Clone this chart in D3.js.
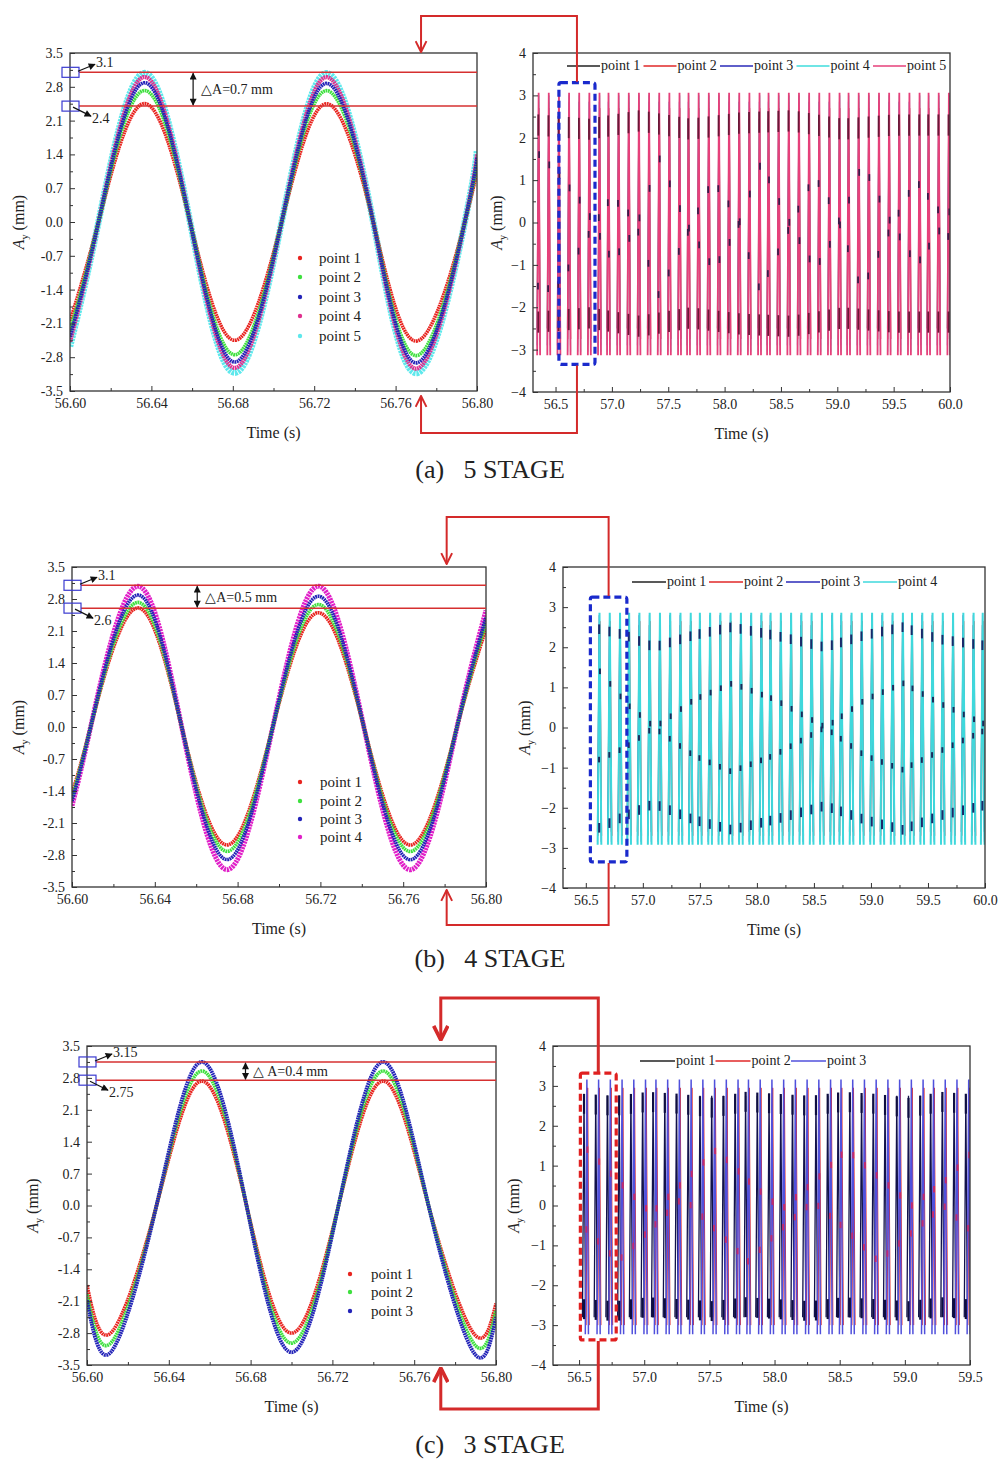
<!DOCTYPE html>
<html>
<head>
<meta charset="utf-8">
<script src="https://cdn.jsdelivr.net/npm/d3@7"></script>
<style>
  body { margin: 0; background: #fff; }
  svg text { font-family: "Liberation Serif", "Times New Roman", serif; fill: #222; }
</style>
</head>
<body>
<svg id="fig" width="1000" height="1459"></svg>
<script>
// ---------- shared ticks ----------
const leftTimeTicks = [56.60, 56.64, 56.68, 56.72, 56.76, 56.80];
const leftTimeMinor = [56.62, 56.66, 56.70, 56.74, 56.78];
const leftAmpTicks = [-3.5, -2.8, -2.1, -1.4, -0.7, 0.0, 0.7, 1.4, 2.1, 2.8, 3.5];
const leftAmpMinor = [-3.15, -2.45, -1.75, -1.05, -0.35, 0.35, 1.05, 1.75, 2.45, 3.15];
const rightAmpTicks = [-4, -3, -2, -1, 0, 1, 2, 3, 4];
const rightAmpMinor = [-3.5, -2.5, -1.5, -0.5, 0.5, 1.5, 2.5, 3.5];
const rightTimeTicksAB = [56.5, 57.0, 57.5, 58.0, 58.5, 59.0, 59.5, 60.0];
const rightTimeMinorAB = [56.75, 57.25, 57.75, 58.25, 58.75, 59.25, 59.75];
const rightTimeTicksC = [56.5, 57.0, 57.5, 58.0, 58.5, 59.0, 59.5];
const rightTimeMinorC = [56.75, 57.25, 57.75, 58.25, 58.75, 59.25];
const pointNames = ["point 1", "point 2", "point 3", "point 4", "point 5"];

// ---------- (a) 5 STAGE ----------
// left: samples at the ends, zero crossings, peaks and troughs
const aKeyTimes = [56.600, 56.614, 56.636, 56.659, 56.681, 56.704, 56.726, 56.749, 56.771, 56.794, 56.800];
const aPoint1 = [-2.05, 0, 2.45, 0, -2.45, 0, 2.45, 0, -2.46, 0, 1.10];
const aPoint2 = [-2.25, 0, 2.72, 0, -2.75, 0, 2.72, 0, -2.76, 0, 1.25];
const aPoint3 = [-2.38, 0, 2.88, 0, -2.90, 0, 2.87, 0, -2.91, 0, 1.33];
const aPoint4 = [-2.48, 0, 3.00, 0, -3.02, 0, 3.00, 0, -3.03, 0, 1.40];
const aPoint5 = [-2.58, 0, 3.08, 0, -3.12, 0, 3.08, 0, -3.12, 0, 1.48];
// right: one spike per cycle
const aSpikeTimes = [56.35, 56.44, 56.53, 56.62, 56.71, 56.80, 56.89, 56.97, 57.06, 57.15, 57.24, 57.33, 57.42, 57.51,
  57.60, 57.68, 57.77, 57.86, 57.95, 58.04, 58.13, 58.22, 58.31, 58.39, 58.48, 58.57, 58.66, 58.75, 58.84, 58.93,
  59.02, 59.10, 59.19, 59.28, 59.37, 59.46, 59.55, 59.64, 59.73, 59.81, 59.90, 59.99];
const aSpikeHigh = [2.45, 2.70, 2.85, 3.00, 3.06];
const aSpikeLow = [-2.50, -2.75, -2.90, -3.05, -3.13];
const aBeatTimes = [56.35, 56.80, 57.25, 57.70, 58.15, 58.60, 59.05, 59.50, 60.00];
const aBandUpper = [2.30, 2.20, 2.40, 2.20, 2.35, 2.40, 2.20, 2.30, 2.30];
const aBandLower = [-2.35, -2.25, -2.45, -2.25, -2.40, -2.45, -2.25, -2.35, -2.35];
const aInnerTimes = [56.35, 56.50, 56.75, 57.00, 57.20, 57.42, 57.65, 57.90, 58.10, 58.32, 58.55, 58.80, 59.00, 59.22, 59.45, 59.70, 59.90, 60.00];
const aInnerA = [1.6, 1.2, 0.4, -0.9, -0.2, 1.5, 0.0, -1.1, -0.2, 1.4, 0.1, -1.1, -0.2, 1.4, 0.1, -1.0, -0.2, 0.3];
const aInnerB = [-1.5, -1.6, -0.5, 0.6, 0.1, -1.7, -0.4, 1.0, 0.2, -1.6, -0.3, 1.1, 0.2, -1.6, -0.3, 1.0, 0.3, -0.4];

// ---------- (b) 4 STAGE ----------
const bKeyTimes = [56.600, 56.609, 56.631, 56.653, 56.675, 56.697, 56.719, 56.741, 56.764, 56.786, 56.800];
const bPoint1 = [-1.45, 0, 2.60, 0, -2.58, 0, 2.50, 0, -2.58, 0, 2.15];
const bPoint2 = [-1.55, 0, 2.72, 0, -2.72, 0, 2.68, 0, -2.72, 0, 2.28];
const bPoint3 = [-1.62, 0, 2.88, 0, -2.90, 0, 2.86, 0, -2.90, 0, 2.40];
const bPoint4 = [-1.72, 0, 3.07, 0, -3.12, 0, 3.08, 0, -3.12, 0, 2.55];
const bSpikeTimes = [56.62, 56.71, 56.80, 56.88, 56.97, 57.06, 57.15, 57.24, 57.33, 57.42, 57.50, 57.59, 57.68,
  57.77, 57.86, 57.95, 58.04, 58.12, 58.21, 58.30, 58.39, 58.48, 58.57, 58.66, 58.74, 58.83, 58.92, 59.01,
  59.10, 59.19, 59.28, 59.36, 59.45, 59.54, 59.63, 59.72, 59.81, 59.90, 59.98];
const bSpikeHigh = [2.55, 2.65, 2.80, 2.86];
const bSpikeLow = [-2.60, -2.70, -2.85, -2.92];
const bBeatTimes = [56.62, 56.85, 57.10, 57.45, 57.78, 58.15, 58.60, 58.95, 59.28, 59.60, 59.98];
const bBandUpper = [2.45, 2.30, 2.00, 2.30, 2.50, 2.30, 2.00, 2.30, 2.50, 2.20, 2.05];
const bBandLower = [-2.50, -2.20, -1.90, -2.30, -2.55, -2.30, -1.95, -2.30, -2.55, -2.20, -1.95];
const bInnerA = [1.40, 0.60, 0.00, 0.70, 1.10, 0.70, 0.00, 0.70, 1.10, 0.60, 0.10];
const bInnerB = [-0.80, -0.50, 0.00, -0.70, -1.10, -0.70, 0.00, -0.70, -1.05, -0.60, -0.10];

// ---------- (c) 3 STAGE ----------
const cKeyTimes = [56.600, 56.612, 56.634, 56.656, 56.678, 56.700, 56.723, 56.745, 56.767, 56.789, 56.800];
const cPoint1 = [-1.75, -2.78, 0, 2.73, 0, -2.80, 0, 2.73, 0, -2.80, -2.15];
const cPoint2 = [-1.95, -3.00, 0, 2.95, 0, -3.02, 0, 2.95, 0, -3.02, -2.30];
const cPoint3 = [-2.08, -3.20, 0, 3.15, 0, -3.22, 0, 3.15, 0, -3.22, -2.45];
const cSpikeTimes = [56.56, 56.65, 56.74, 56.83, 56.92, 57.01, 57.09, 57.18, 57.27, 57.36, 57.45, 57.54, 57.63,
  57.72, 57.80, 57.89, 57.98, 58.07, 58.16, 58.25, 58.34, 58.43, 58.51, 58.60, 58.69, 58.78, 58.87, 58.96,
  59.05, 59.14, 59.22, 59.31, 59.40, 59.49];
const cSpikeHigh = [2.75, 2.95, 3.16];
const cSpikeLow = [-2.80, -3.00, -3.23];
const cBeatTimes = [56.56, 56.80, 57.05, 57.30, 57.55, 57.80, 58.05, 58.30, 58.55, 58.80, 59.05, 59.30, 59.50];
const cBandUpper = [2.55, 2.50, 2.60, 2.55, 2.45, 2.60, 2.55, 2.50, 2.60, 2.55, 2.45, 2.60, 2.55];
const cBandLower = [-2.60, -2.65, -2.55, -2.60, -2.65, -2.55, -2.60, -2.65, -2.55, -2.60, -2.65, -2.55, -2.60];
const cInnerA = [1.40, 0.60, -0.20, 0.60, 1.40, 0.60, -0.10, 0.60, 1.40, 0.70, 0.00, 0.60, 1.30];
const cInnerB = [-0.60, -1.40, -0.60, 0.20, -0.60, -1.40, -0.60, 0.10, -0.60, -1.40, -0.70, 0.00, -0.60];

// ---------- drawing ----------
const svg = d3.select("#fig");
const defs = svg.append("defs");

defs.append("marker").attr("id", "blackHead")
  .attr("viewBox", "0 0 10 10").attr("refX", 9).attr("refY", 5)
  .attr("markerWidth", 8).attr("markerHeight", 7).attr("markerUnits", "userSpaceOnUse")
  .attr("orient", "auto-start-reverse")
  .append("path").attr("d", "M0,0L10,5L0,10Z").attr("fill", "#111");

function redHead(id, size, sw) {
  defs.append("marker").attr("id", id)
    .attr("viewBox", "0 0 12 12").attr("refX", 11).attr("refY", 6)
    .attr("markerWidth", size).attr("markerHeight", size).attr("markerUnits", "userSpaceOnUse")
    .attr("orient", "auto")
    .append("path").attr("d", "M1,1L11,6L1,11").attr("fill", "none")
    .attr("stroke", "#d42a2a").attr("stroke-width", sw);
}
redHead("redHead", 13, 1.8);
redHead("redHeadBig", 17, 2.6);

function panel(id, x0, x1, y0, y1, xDom, yDom) {
  const g = svg.append("g");
  const x = d3.scaleLinear().domain(xDom).range([x0, x1]);
  const y = d3.scaleLinear().domain(yDom).range([y1, y0]);
  defs.append("clipPath").attr("id", id).append("rect")
    .attr("x", x0).attr("y", y0).attr("width", x1 - x0).attr("height", y1 - y0);
  const plot = g.append("g").attr("clip-path", `url(#${id})`);
  return { g, plot, x, y, x0, x1, y0, y1 };
}

function axes(p, o) {
  const add = (axis, tr) => p.g.append("g").attr("transform", tr).call(axis)
    .call(a => a.select(".domain").remove())
    .attr("font-family", null).attr("font-size", 14).attr("color", "#333");
  add(d3.axisBottom(p.x).tickValues(o.xMinor).tickSize(-3).tickFormat(""), `translate(0,${p.y1})`);
  add(d3.axisBottom(p.x).tickValues(o.xTicks).tickSize(-5).tickPadding(7).tickFormat(o.xFmt), `translate(0,${p.y1})`);
  add(d3.axisLeft(p.y).tickValues(o.yMinor).tickSize(-3).tickFormat(""), `translate(${p.x0},0)`);
  add(d3.axisLeft(p.y).tickValues(o.yTicks).tickSize(-5).tickPadding(7).tickFormat(o.yFmt), `translate(${p.x0},0)`);
  p.g.append("rect").attr("x", p.x0).attr("y", p.y0)
    .attr("width", p.x1 - p.x0).attr("height", p.y1 - p.y0)
    .attr("fill", "none").attr("stroke", "#333").attr("stroke-width", 1.3);

  p.g.append("text").attr("x", (p.x0 + p.x1) / 2).attr("y", p.y1 + 47)
    .attr("text-anchor", "middle").attr("font-size", 16).text("Time (s)");
  const t = p.g.append("text")
    .attr("transform", `translate(${o.yTitleX},${(p.y0 + p.y1) / 2}) rotate(-90)`)
    .attr("text-anchor", "middle").attr("font-size", 16);
  t.append("tspan").attr("font-style", "italic").text("A");
  t.append("tspan").attr("font-size", 10).attr("dy", 4).text("y");
  t.append("tspan").attr("dy", -4).text(" (mm)");
}

// left panel: dense scatter of each point drawn as a textured band
function leftPanel(p, keyTimes, series, styles, order) {
  const line = d3.line().curve(d3.curveNatural)
    .x((d, i) => p.x(keyTimes[i])).y(d => p.y(d));
  order.forEach(i => {
    p.plot.append("path").datum(series[i])
      .attr("d", line).attr("fill", "none")
      .attr("stroke", styles[i].color).attr("stroke-width", styles[i].width)
      .attr("stroke-dasharray", styles[i].dash);
  });
}

function leftLegend(p, styles, dotX, textX, ys) {
  styles.forEach((s, i) => {
    p.g.append("circle").attr("cx", dotX).attr("cy", ys[i]).attr("r", 2.2).attr("fill", s.color);
    p.g.append("text").attr("x", textX).attr("y", ys[i] + 5).attr("font-size", 15).text(pointNames[i]);
  });
}

// amplitude annotation: two red lines, blue boxes, value labels and the ΔA arrow
function deltaA(p, o) {
  [o.hi, o.lo].forEach(v => {
    p.g.append("line").attr("x1", p.x0 + 9).attr("x2", p.x1)
      .attr("y1", p.y(v)).attr("y2", p.y(v)).attr("stroke", "#d63030").attr("stroke-width", 1.5);
    p.g.append("rect").attr("x", p.x0 - 8).attr("y", p.y(v) - 5).attr("width", 17).attr("height", 10)
      .attr("fill", "none").attr("stroke", "#3a3ad0").attr("stroke-width", 1.2);
  });
  const yh = p.y(o.hi), yl = p.y(o.lo);
  p.g.append("line").attr("x1", p.x0 + 8).attr("y1", yh - 1).attr("x2", p.x0 + 25).attr("y2", yh - 8)
    .attr("stroke", "#111").attr("stroke-width", 1.2).attr("marker-end", "url(#blackHead)");
  p.g.append("text").attr("x", p.x0 + 26).attr("y", yh - 5).attr("font-size", 14).text(o.hiLabel);
  p.g.append("line").attr("x1", p.x0 + 3).attr("y1", yl + 1).attr("x2", p.x0 + 21).attr("y2", yl + 10)
    .attr("stroke", "#111").attr("stroke-width", 1.2).attr("marker-end", "url(#blackHead)");
  p.g.append("text").attr("x", p.x0 + 22).attr("y", yl + 17).attr("font-size", 14).text(o.loLabel);
  const ax = p.x(o.arrowTime);
  p.g.append("line").attr("x1", ax).attr("x2", ax).attr("y1", yh + 1).attr("y2", yl - 1)
    .attr("stroke", "#111").attr("stroke-width", 1.2)
    .attr("marker-start", "url(#blackHead)").attr("marker-end", "url(#blackHead)");
  p.g.append("text").attr("x", ax + 8).attr("y", (yh + yl) / 2 + 5).attr("font-size", 14).text(o.text);
}

// right panel: one narrow spike per cycle for each point
function rightPanel(p, spikeTimes, hi, lo, styles, w) {
  const line = d3.line().x(d => p.x(d[0])).y(d => p.y(d[1]));
  styles.forEach((s, i) => {
    p.plot.append("g").selectAll("path").data(spikeTimes).join("path")
      .attr("d", t => line([[t + s.off - w, lo[i]], [t + s.off, hi[i]], [t + s.off + w, lo[i]]]))
      .attr("fill", "none").attr("stroke", s.color).attr("stroke-width", s.width)
      .attr("stroke-opacity", s.opacity || 1);
  });
}

// sampled points of point 1 that sit on the spikes (beat pattern)
function beatMarks(p, spikeTimes, beatTimes, values, off, len, color, width) {
  const at = d3.scaleLinear().domain(beatTimes).range(values).clamp(true);
  p.plot.append("g").selectAll("line").data(spikeTimes).join("line")
    .attr("x1", t => p.x(t + off)).attr("x2", t => p.x(t + off))
    .attr("y1", t => p.y(at(t) + len)).attr("y2", t => p.y(at(t) - len))
    .attr("stroke", color).attr("stroke-width", width);
}

function rightLegend(p, styles, x0, y, step, lineLen) {
  styles.forEach((s, i) => {
    const lx = x0 + i * step;
    p.g.append("line").attr("x1", lx).attr("x2", lx + lineLen).attr("y1", y).attr("y2", y)
      .attr("stroke", s.legend || s.color).attr("stroke-width", 1.5);
    p.g.append("text").attr("x", lx + lineLen + 1).attr("y", y + 4).attr("font-size", 14).text(pointNames[i]);
  });
}

function zoomBox(p, t0, t1, v0, v1, color) {
  p.g.append("rect").attr("x", p.x(t0)).attr("y", p.y(v1))
    .attr("width", p.x(t1) - p.x(t0)).attr("height", p.y(v0) - p.y(v1))
    .attr("rx", 2).attr("fill", "none").attr("stroke", color)
    .attr("stroke-width", 3.2).attr("stroke-dasharray", "7,4");
}

function connector(pts, sw, head) {
  svg.append("path").attr("d", d3.line()(pts)).attr("fill", "none")
    .attr("stroke", "#d42a2a").attr("stroke-width", sw).attr("marker-end", `url(#${head})`);
}

function caption(text, y) {
  svg.append("text").attr("x", 490).attr("y", y).attr("text-anchor", "middle")
    .attr("font-size", 26).style("white-space", "pre").text(text);
}

const fmt2 = d3.format(".2f"), fmt1 = d3.format(".1f"), fmt0 = d3.format("d");
const minus = f => d => f(d).replace("\u2212", "-");
const leftAxes = yTitleX => ({ xTicks: leftTimeTicks, xMinor: leftTimeMinor, xFmt: fmt2,
  yTicks: leftAmpTicks, yMinor: leftAmpMinor, yFmt: minus(fmt1), yTitleX });

// ===== (a) =====
const aL = panel("clipAL", 70, 477, 53, 391, [56.6, 56.8], [-3.5, 3.5]);
const aLeftStyles = [
  { color: "#e8241f", width: 3.6, dash: "1.8,0.6" },
  { color: "#3ee03e", width: 3.6, dash: "1.8,0.6" },
  { color: "#2323b8", width: 3.6, dash: "1.8,0.6" },
  { color: "#e0308f", width: 4.2, dash: "1.8,0.6" },
  { color: "#5ee8ec", width: 6.5, dash: "2.4,0.8" }];
leftPanel(aL, aKeyTimes, [aPoint1, aPoint2, aPoint3, aPoint4, aPoint5], aLeftStyles, [4, 3, 0, 1, 2]);
axes(aL, leftAxes(24));
leftLegend(aL, aLeftStyles, 300, 319, [258, 277, 297, 316, 336]);
deltaA(aL, { hi: 3.1, lo: 2.4, hiLabel: "3.1", loLabel: "2.4", arrowTime: 56.6605, text: "\u25B3A=0.7 mm" });

const aR = panel("clipAR", 533, 950, 53, 392, [56.3, 60.0], [-4, 4]);
const aRightStyles = [
  { color: "#222", width: 1, off: -0.002, opacity: 0.6 },
  { color: "#e02828", width: 1, off: 0.002 },
  { color: "#2a2ab8", width: 1, off: -0.001, opacity: 0.7 },
  { color: "#3fdcdc", width: 1, off: 0.001 },
  { color: "#e6407a", width: 1.8, off: 0 }];
rightPanel(aR, aSpikeTimes, aSpikeHigh, aSpikeLow, aRightStyles, 0.013);
beatMarks(aR, aSpikeTimes, aBeatTimes, aBandUpper, -0.003, 0.25, "#6a1838", 1.8);
beatMarks(aR, aSpikeTimes, aBeatTimes, aBandLower, -0.003, 0.25, "#6a1838", 1.8);
beatMarks(aR, aSpikeTimes, aInnerTimes, aInnerA, 0.004, 0.08, "#3a1a4a", 1.8);
beatMarks(aR, aSpikeTimes, aInnerTimes, aInnerB, -0.006, 0.08, "#3a1a4a", 1.8);
axes(aR, { xTicks: rightTimeTicksAB, xMinor: rightTimeMinorAB, xFmt: fmt1,
  yTicks: rightAmpTicks, yMinor: rightAmpMinor, yFmt: fmt0, yTitleX: 502 });
rightLegend(aR, aRightStyles, 567, 66, 76.5, 33);
zoomBox(aR, 56.53, 56.85, -3.35, 3.3, "#1a2acc");
connector([[aR.x(56.69), aR.y(3.3) - 1], [aR.x(56.69), 16], [aL.x(56.7725), 16], [aL.x(56.7725), aL.y0 - 1]], 2, "redHead");
connector([[aR.x(56.69), aR.y(-3.35) + 1], [aR.x(56.69), 433], [aL.x(56.7725), 433], [aL.x(56.7725), aL.y1 + 5]], 2, "redHead");
caption("(a)   5 STAGE", 478);

// ===== (b) =====
const bL = panel("clipBL", 72, 486, 567, 887, [56.6, 56.8], [-3.5, 3.5]);
const bLeftStyles = [
  { color: "#e8241f", width: 3.6, dash: "1.8,0.6" },
  { color: "#3ee03e", width: 3.6, dash: "1.8,0.6" },
  { color: "#2323b8", width: 3.6, dash: "1.8,0.6" },
  { color: "#e020c8", width: 5, dash: "2.2,0.8" }];
leftPanel(bL, bKeyTimes, [bPoint1, bPoint2, bPoint3, bPoint4], bLeftStyles, [3, 0, 1, 2]);
axes(bL, leftAxes(24));
leftLegend(bL, bLeftStyles, 300, 320, [782, 801, 819, 837]);
deltaA(bL, { hi: 3.1, lo: 2.6, hiLabel: "3.1", loLabel: "2.6", arrowTime: 56.6605, text: "\u25B3A=0.5 mm" });

const bR = panel("clipBR", 563, 985, 567, 888, [56.3, 60.0], [-4, 4]);
const bRightStyles = [
  { color: "#222", width: 1, off: -0.003, opacity: 0.6 },
  { color: "#e02828", width: 1, off: 0.003 },
  { color: "#2a2ab8", width: 1, off: -0.002, opacity: 0.7 },
  { color: "#3fd8dc", width: 2, off: 0 }];
rightPanel(bR, bSpikeTimes, bSpikeHigh, bSpikeLow, bRightStyles, 0.016);
beatMarks(bR, bSpikeTimes, bBeatTimes, bBandUpper, -0.003, 0.12, "#1a2a6a", 2);
beatMarks(bR, bSpikeTimes, bBeatTimes, bBandLower, -0.003, 0.12, "#1a2a6a", 2);
beatMarks(bR, bSpikeTimes, bBeatTimes, bInnerA, 0.004, 0.07, "#1a2a5a", 2);
beatMarks(bR, bSpikeTimes, bBeatTimes, bInnerB, -0.004, 0.07, "#1a2a5a", 2);
axes(bR, { xTicks: rightTimeTicksAB, xMinor: rightTimeMinorAB, xFmt: fmt1,
  yTicks: rightAmpTicks, yMinor: rightAmpMinor, yFmt: fmt0, yTitleX: 530 });
rightLegend(bR, bRightStyles, 632, 582, 77, 34);
zoomBox(bR, 56.54, 56.86, -3.35, 3.25, "#1a2acc");
connector([[bR.x(56.70), bR.y(3.25) - 1], [bR.x(56.70), 517], [bL.x(56.781), 517], [bL.x(56.781), bL.y0 - 3]], 2, "redHead");
connector([[bR.x(56.70), bR.y(-3.35) + 1], [bR.x(56.70), 925], [bL.x(56.781), 925], [bL.x(56.781), bL.y1 + 3]], 2, "redHead");
caption("(b)   4 STAGE", 967);

// ===== (c) =====
const cL = panel("clipCL", 87, 496, 1046, 1365, [56.6, 56.8], [-3.5, 3.5]);
const cLeftStyles = [
  { color: "#e8241f", width: 3.6, dash: "1.8,0.6" },
  { color: "#3ee03e", width: 3.6, dash: "1.8,0.6" },
  { color: "#2323b8", width: 3.8, dash: "1.8,0.6" }];
leftPanel(cL, cKeyTimes, [cPoint1, cPoint2, cPoint3], cLeftStyles, [0, 1, 2]);
axes(cL, leftAxes(38));
leftLegend(cL, cLeftStyles, 350, 371, [1274, 1292, 1311]);
deltaA(cL, { hi: 3.15, lo: 2.75, hiLabel: "3.15", loLabel: "2.75", arrowTime: 56.6775, text: "\u25B3 A=0.4 mm" });

const cR = panel("clipCR", 553, 970, 1046, 1365, [56.3, 59.5], [-4, 4]);
const cRightStyles = [
  { color: "#12124a", width: 1.3, off: -0.022, legend: "#222" },
  { color: "#e02828", width: 1, off: 0.006 },
  { color: "#5050dc", width: 1.5, off: 0 }];
rightPanel(cR, cSpikeTimes, cSpikeHigh, cSpikeLow, cRightStyles, 0.012);
beatMarks(cR, cSpikeTimes, cBeatTimes, cBandUpper, -0.022, 0.25, "#0e0e40", 2.2);
beatMarks(cR, cSpikeTimes, cBeatTimes, cBandLower, -0.022, 0.25, "#0e0e40", 2.2);
beatMarks(cR, cSpikeTimes, cBeatTimes, cInnerA, 0.004, 0.08, "#c02a70", 2);
beatMarks(cR, cSpikeTimes, cBeatTimes, cInnerB, -0.004, 0.08, "#c02a70", 2);
axes(cR, { xTicks: rightTimeTicksC, xMinor: rightTimeMinorC, xFmt: fmt1,
  yTicks: rightAmpTicks, yMinor: rightAmpMinor, yFmt: fmt0, yTitleX: 519 });
rightLegend(cR, cRightStyles, 640, 1061, 75.5, 35);
zoomBox(cR, 56.51, 56.785, -3.37, 3.32, "#e02020");
connector([[cR.x(56.6475), cR.y(3.32) - 1], [cR.x(56.6475), 998], [cL.x(56.773), 998], [cL.x(56.773), cL.y0 - 6]], 3, "redHeadBig");
connector([[cR.x(56.6475), cR.y(-3.37) + 1], [cR.x(56.6475), 1409], [cL.x(56.773), 1409], [cL.x(56.773), cL.y1 + 3]], 3, "redHeadBig");
caption("(c)   3 STAGE", 1453);
</script>
</body>
</html>
